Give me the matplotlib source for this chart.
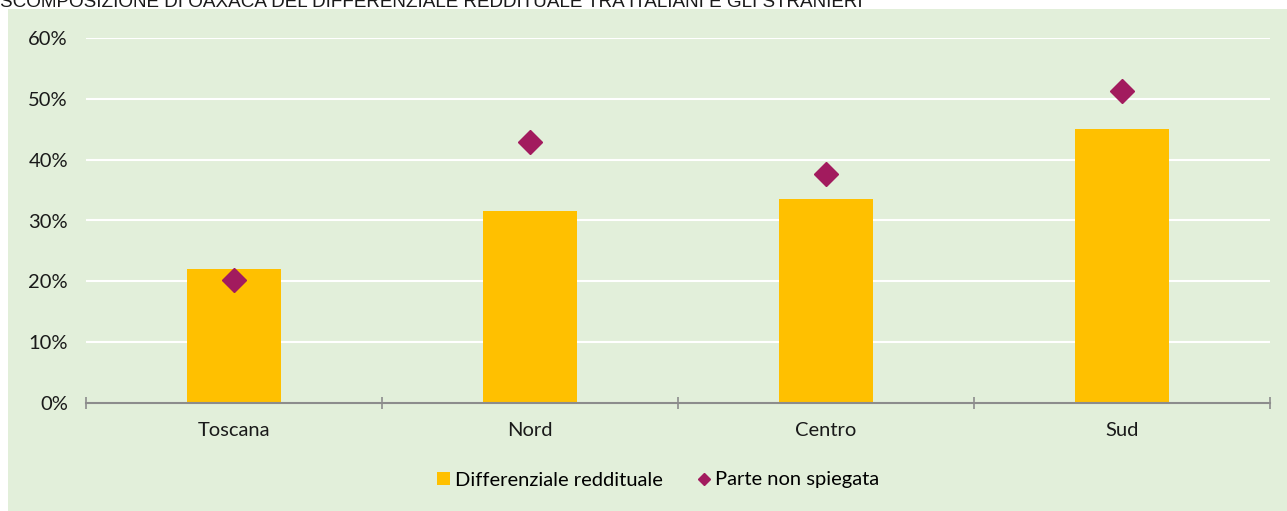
import numpy as np
import matplotlib.pyplot as plt
from matplotlib.patches import Rectangle
from matplotlib.ticker import FuncFormatter

categorie = ['Toscana', 'Nord', 'Centro', 'Sud']
differenziale = [0.220, 0.316, 0.336, 0.451]
non_spiegata = [0.202, 0.429, 0.376, 0.513]

titolo = 'SCOMPOSIZIONE DI OAXACA DEL DIFFERENZIALE REDDITUALE TRA ITALIANI E GLI STRANIERI'

plt.rcParams['font.family'] = ['Lato', 'DejaVu Sans']

W, H = 1287, 511
fig = plt.figure(figsize=(W / 100, H / 100), dpi=100, facecolor='white')

# green panel
fig.patches.append(Rectangle((8 / W, 0), 1 - 8 / W, 1 - 9 / H, transform=fig.transFigure,
                             facecolor='#E2EFDA', edgecolor='none', zorder=-5))
fig.text(0, 1 - 7 / H, titolo, fontsize=13.6, family='Liberation Sans', color='#1a1a1a',
         va='baseline', ha='left')

ax = fig.add_axes([86 / W, 1 - 403 / H, (1270 - 86) / W, (403 - 38) / H])
ax.set_facecolor('none')
ax.set_zorder(2)

x = np.arange(len(categorie))
barre = ax.bar(x, differenziale, width=0.315, color='#FFC000', zorder=2)
punti, = ax.plot(x, non_spiegata, linestyle='none', marker='D', markersize=12, color='#A21B5E',
                 zorder=3)

ax.set_xlim(-0.5, len(categorie) - 0.5)
ax.set_ylim(0, 0.6)
ax.set_yticks(np.arange(0, 0.61, 0.1))
ax.yaxis.set_major_formatter(FuncFormatter(lambda v, p: f'{v * 100:.0f}%'))
ax.grid(axis='y', color='white', linewidth=1.5, zorder=1)
ax.set_axisbelow(True)

for s in ['top', 'right', 'left']:
    ax.spines[s].set_visible(False)
ax.spines['bottom'].set_color('#8c8c8c')
ax.spines['bottom'].set_linewidth(1.5)
ax.spines['bottom'].set_zorder(4)

ax.set_xticks(x)
ax.set_xticklabels(categorie, fontsize=14.5, color='#1a1a1a')
ax.tick_params(axis='x', which='major', length=0, pad=13.5)
ax.set_xticks(np.arange(-0.5, len(categorie), 1), minor=True)
ax.tick_params(axis='x', which='minor', length=8, width=1.2, color='#8c8c8c', direction='inout')
ax.tick_params(axis='y', length=0, labelsize=14.5, labelcolor='#1a1a1a', pad=13)

fig.legend([barre, punti], ['Differenziale reddituale', 'Parte non spiegata'],
           loc='center', bbox_to_anchor=(658 / W, 1 - 480 / H), ncol=2, frameon=False,
           fontsize=14.5, handlelength=0.65, handleheight=0.65, columnspacing=1.7,
           handletextpad=0.25, markerscale=0.5)

fig.savefig('out.png', dpi=100, facecolor='white')
